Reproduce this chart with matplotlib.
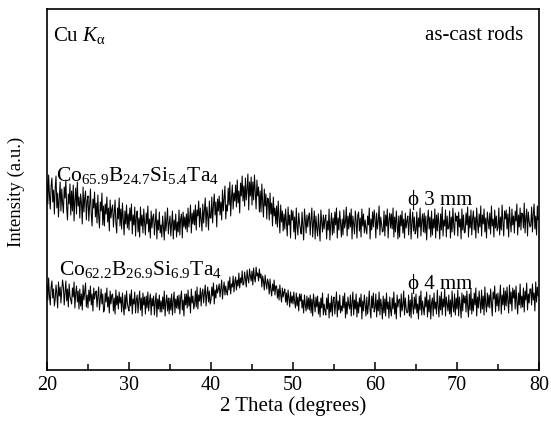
import numpy as np
import matplotlib
matplotlib.use("Agg")
import matplotlib.pyplot as plt
from matplotlib.ticker import MultipleLocator

plt.rcParams['font.family'] = ['Liberation Serif', 'DejaVu Serif']
plt.rcParams['mathtext.fontset'] = 'custom'
plt.rcParams['mathtext.rm'] = 'Liberation Serif'
plt.rcParams['mathtext.it'] = 'Liberation Serif:italic'
plt.rcParams['mathtext.bf'] = 'Liberation Serif:bold'

# 2 theta from 20 to 80 degrees, step 0.1
two_theta_start = 20.0
two_theta_step = 0.1

# phi 3 mm rod (Co65.9B24.7Si5.4Ta4), intensity (a.u.)
int_3mm = [
    185, 162, 191, 170, 157, 180, 188, 164, 176, 152,
    178, 190, 158, 173, 149, 168, 184, 155, 177, 163,
    153, 179, 168, 186, 158, 146, 172, 162, 182, 151,
    175, 155, 181, 145, 166, 178, 152, 184, 160, 169,
    148, 172, 163, 142, 179, 154, 168, 175, 146, 165,
    170, 145, 162, 177, 151, 140, 167, 158, 174, 149,
    163, 143, 171, 150, 138, 164, 155, 173, 141, 160,
    140, 162, 152, 169, 144, 158, 135, 166, 148, 157,
    161, 139, 153, 166, 143, 133, 158, 147, 168, 140,
    157, 137, 163, 146, 131, 155, 142, 161, 138, 152,
    136, 158, 145, 162, 132, 151, 141, 159, 130, 150,
    155, 134, 148, 129, 159, 140, 151, 133, 157, 143,
    131, 153, 142, 160, 134, 147, 128, 155, 138, 149,
    152, 131, 144, 157, 127, 146, 136, 154, 133, 141,
    129, 150, 139, 126, 154, 135, 145, 158, 132, 143,
    150, 130, 142, 155, 127, 146, 136, 152, 129, 144,
    134, 156, 131, 147, 152, 128, 154, 139, 149, 137,
    152, 134, 158, 139, 147, 161, 133, 153, 142, 156,
    141, 161, 136, 156, 150, 165, 139, 158, 146, 135,
    162, 143, 156, 168, 139, 159, 150, 136, 165, 148,
    148, 169, 143, 161, 172, 151, 164, 139, 167, 155,
    170, 151, 164, 146, 176, 155, 167, 180, 147, 161,
    155, 178, 161, 184, 150, 169, 181, 157, 173, 165,
    181, 159, 186, 163, 175, 153, 183, 170, 190, 165,
    180, 160, 188, 166, 177, 192, 156, 184, 170, 189,
    161, 184, 166, 191, 174, 157, 186, 170, 179, 154,
    175, 154, 182, 163, 149, 177, 160, 172, 147, 168,
    167, 146, 173, 152, 163, 140, 169, 150, 158, 142,
    160, 139, 165, 148, 133, 161, 144, 155, 135, 152,
    137, 157, 143, 130, 159, 141, 151, 128, 156, 146,
    155, 134, 149, 127, 158, 140, 131, 153, 143, 137,
    132, 154, 140, 126, 157, 146, 133, 151, 139, 149,
    153, 131, 147, 158, 129, 143, 155, 127, 150, 138,
    130, 152, 139, 125, 156, 144, 134, 151, 137, 147,
    151, 127, 145, 136, 157, 126, 142, 153, 131, 148,
    133, 154, 141, 158, 128, 148, 136, 155, 143, 129,
    147, 131, 156, 138, 144, 159, 130, 150, 137, 153,
    139, 157, 127, 150, 142, 132, 155, 145, 128, 151,
    154, 135, 148, 129, 157, 140, 152, 133, 146, 137,
    132, 150, 141, 158, 127, 147, 136, 154, 139, 156,
    148, 128, 153, 137, 145, 160, 131, 149, 142, 134,
    135, 155, 130, 151, 140, 157, 128, 146, 153, 138,
    152, 137, 158, 129, 149, 134, 155, 142, 127, 150,
    129, 151, 140, 155, 133, 147, 128, 153, 138, 145,
    150, 131, 146, 157, 127, 143, 154, 135, 149, 132,
    136, 154, 128, 148, 139, 158, 130, 145, 152, 134,
    153, 133, 150, 126, 144, 156, 137, 149, 129, 155,
    131, 147, 138, 157, 128, 151, 135, 153, 142, 127,
    152, 136, 159, 130, 146, 140, 156, 129, 150, 137,
    138, 155, 128, 149, 134, 158, 141, 131, 153, 145,
    150, 130, 154, 139, 147, 127, 157, 136, 151, 133,
    134, 153, 141, 159, 129, 150, 138, 156, 131, 147,
    155, 136, 149, 128, 158, 143, 133, 152, 139, 160,
    130, 151, 142, 157, 134, 148, 128, 154, 146, 137,
    153, 132, 160, 140, 147, 129, 156, 138, 150, 135,
    139, 158, 131, 149, 136, 161, 143, 130, 155, 147,
    156, 137, 152, 129, 159, 144, 134, 157, 141, 150,
    133, 155, 145, 162, 131, 151, 139, 158, 136, 153,
    152, 138, 163, 133, 148, 157, 130, 154, 145, 139,
    141, 159, 134, 152, 162, 137, 150, 131, 160, 146,
    149,
]

# phi 4 mm rod (Co62.2B26.9Si6.9Ta4)
int_4mm = [
    82, 66, 88, 70, 61, 79, 85, 68, 77, 60,
    67, 81, 72, 58, 84, 70, 79, 63, 76, 86,
    79, 61, 74, 85, 65, 77, 59, 82, 70, 66,
    62, 78, 69, 84, 58, 73, 80, 64, 75, 57,
    77, 60, 72, 56, 81, 66, 74, 83, 59, 71,
    58, 76, 65, 80, 61, 72, 55, 78, 67, 73,
    75, 59, 70, 79, 56, 66, 77, 62, 72, 54,
    56, 73, 64, 78, 59, 69, 53, 75, 62, 71,
    72, 55, 68, 52, 76, 61, 70, 57, 74, 63,
    69, 54, 73, 60, 51, 71, 57, 75, 63, 58,
    55, 72, 60, 76, 52, 67, 62, 74, 53, 66,
    71, 53, 66, 75, 56, 68, 50, 73, 61, 69,
    52, 70, 58, 74, 55, 65, 72, 51, 68, 60,
    70, 51, 64, 73, 49, 67, 57, 71, 54, 65,
    54, 69, 57, 75, 50, 64, 71, 55, 68, 52,
    68, 56, 72, 51, 65, 74, 53, 67, 58, 70,
    57, 71, 52, 68, 75, 56, 66, 50, 72, 61,
    72, 58, 76, 60, 69, 53, 77, 63, 70, 57,
    62, 75, 59, 79, 57, 71, 65, 78, 60, 73,
    77, 63, 73, 81, 60, 72, 79, 64, 75, 62,
    66, 79, 70, 83, 62, 76, 68, 81, 73, 77,
    82, 69, 78, 86, 67, 77, 84, 71, 80, 74,
    71, 85, 76, 89, 72, 82, 79, 90, 74, 84,
    89, 76, 86, 80, 93, 78, 88, 83, 95, 81,
    82, 94, 87, 79, 96, 88, 83, 97, 90, 85,
    95, 81, 98, 88, 84, 99, 90, 93, 85, 97,
    88, 92, 79, 90, 85, 76, 91, 83, 77, 87,
    83, 72, 87, 76, 70, 82, 75, 86, 71, 80,
    80, 68, 77, 66, 81, 71, 64, 78, 69, 74,
    77, 64, 73, 61, 76, 67, 59, 74, 63, 70,
    62, 74, 64, 58, 73, 60, 69, 55, 72, 65,
    72, 58, 66, 53, 71, 61, 55, 70, 57, 68,
    56, 71, 53, 67, 50, 72, 63, 54, 69, 59,
    70, 52, 64, 49, 68, 58, 73, 51, 62, 55,
    51, 68, 57, 72, 48, 63, 54, 70, 50, 66,
    69, 52, 62, 74, 49, 65, 56, 71, 53, 60,
    55, 70, 58, 73, 48, 64, 52, 69, 61, 57,
    71, 50, 63, 74, 51, 66, 57, 72, 49, 64,
    53, 68, 59, 72, 47, 65, 55, 71, 62, 50,
    69, 52, 61, 75, 56, 48, 70, 58, 73, 54,
    58, 72, 49, 66, 55, 74, 51, 67, 60, 47,
    70, 53, 67, 50, 73, 57, 64, 48, 69, 56,
    50, 68, 57, 74, 52, 63, 47, 71, 59, 66,
    67, 49, 72, 55, 61, 75, 51, 68, 58, 53,
    54, 71, 50, 66, 48, 73, 60, 52, 69, 57,
    72, 53, 62, 47, 70, 56, 75, 51, 65, 58,
    51, 69, 59, 74, 49, 66, 54, 71, 47, 63,
    68, 50, 73, 57, 64, 52, 76, 60, 49, 70,
    56, 74, 51, 67, 59, 77, 50, 69, 62, 55,
    71, 52, 66, 49, 75, 60, 54, 72, 51, 68,
    57, 76, 50, 69, 61, 48, 73, 55, 71, 63,
    70, 54, 75, 60, 49, 72, 56, 77, 52, 67,
    55, 73, 61, 78, 50, 69, 58, 75, 64, 53,
    76, 57, 70, 51, 79, 62, 54, 73, 59, 71,
    58, 77, 63, 50, 74, 67, 80, 54, 72, 60,
    73, 55, 68, 81, 52, 71, 61, 78, 56, 75,
    60, 79, 65, 53, 81, 62, 74, 55, 78, 68,
    76, 57, 80, 64, 52, 73, 61, 82, 58, 70,
    59, 78, 54, 75, 66, 83, 56, 72, 63, 77,
    77, 61, 82, 66, 73, 55, 84, 64, 79, 70,
    70,
]

x_ticks = [20, 30, 40, 50, 60, 70, 80]

two_theta = two_theta_start + two_theta_step * np.arange(len(int_3mm))

fig = plt.figure(figsize=(5.51, 4.23), dpi=100)
ax = fig.add_axes([0.0853, 0.1253, 0.8929, 0.8534])

ax.plot(two_theta, int_3mm, color='black', lw=0.75)
ax.plot(two_theta, int_4mm, color='black', lw=0.75)

ax.set_xlim(20, 80)
ax.set_ylim(-4, 357)
ax.set_xticks(x_ticks)
ax.xaxis.set_minor_locator(MultipleLocator(5))
ax.set_yticks([])
ax.tick_params(axis='x', which='major', direction='in', length=6, width=1.1,
               labelsize=14.5, pad=4)
ax.tick_params(axis='x', which='minor', direction='in', length=4, width=1.1)
for s in ax.spines.values():
    s.set_linewidth(1.2)

ax.set_xlabel('2 Theta (degrees)', fontsize=15, labelpad=1)
ax.set_ylabel('Intensity (a.u.)', fontsize=13.5)
ax.yaxis.set_label_coords(-0.045, 0.494)

ax.text(0.012, 0.911, 'Cu $K_{\\mathrm{\u03b1}}$', transform=ax.transAxes,
        fontsize=15, ha='left', va='baseline')
ax.text(0.9675, 0.914, 'as-cast rods', transform=ax.transAxes,
        fontsize=15, ha='right', va='baseline')

ax.text(21.1, 185, r'Co$_{65.9}$B$_{24.7}$Si$_{5.4}$Ta$_{4}$', fontsize=15.5,
        ha='left', va='baseline')
ax.text(21.5, 91, r'Co$_{62.2}$B$_{26.9}$Si$_{6.9}$Ta$_{4}$', fontsize=15.5,
        ha='left', va='baseline')

ax.text(64.0, 161, '\u03d5 3 mm', fontsize=15, ha='left', va='baseline')
ax.text(64.0, 77, '\u03d5 4 mm', fontsize=15, ha='left', va='baseline')

fig.savefig('out.png', dpi=100)
